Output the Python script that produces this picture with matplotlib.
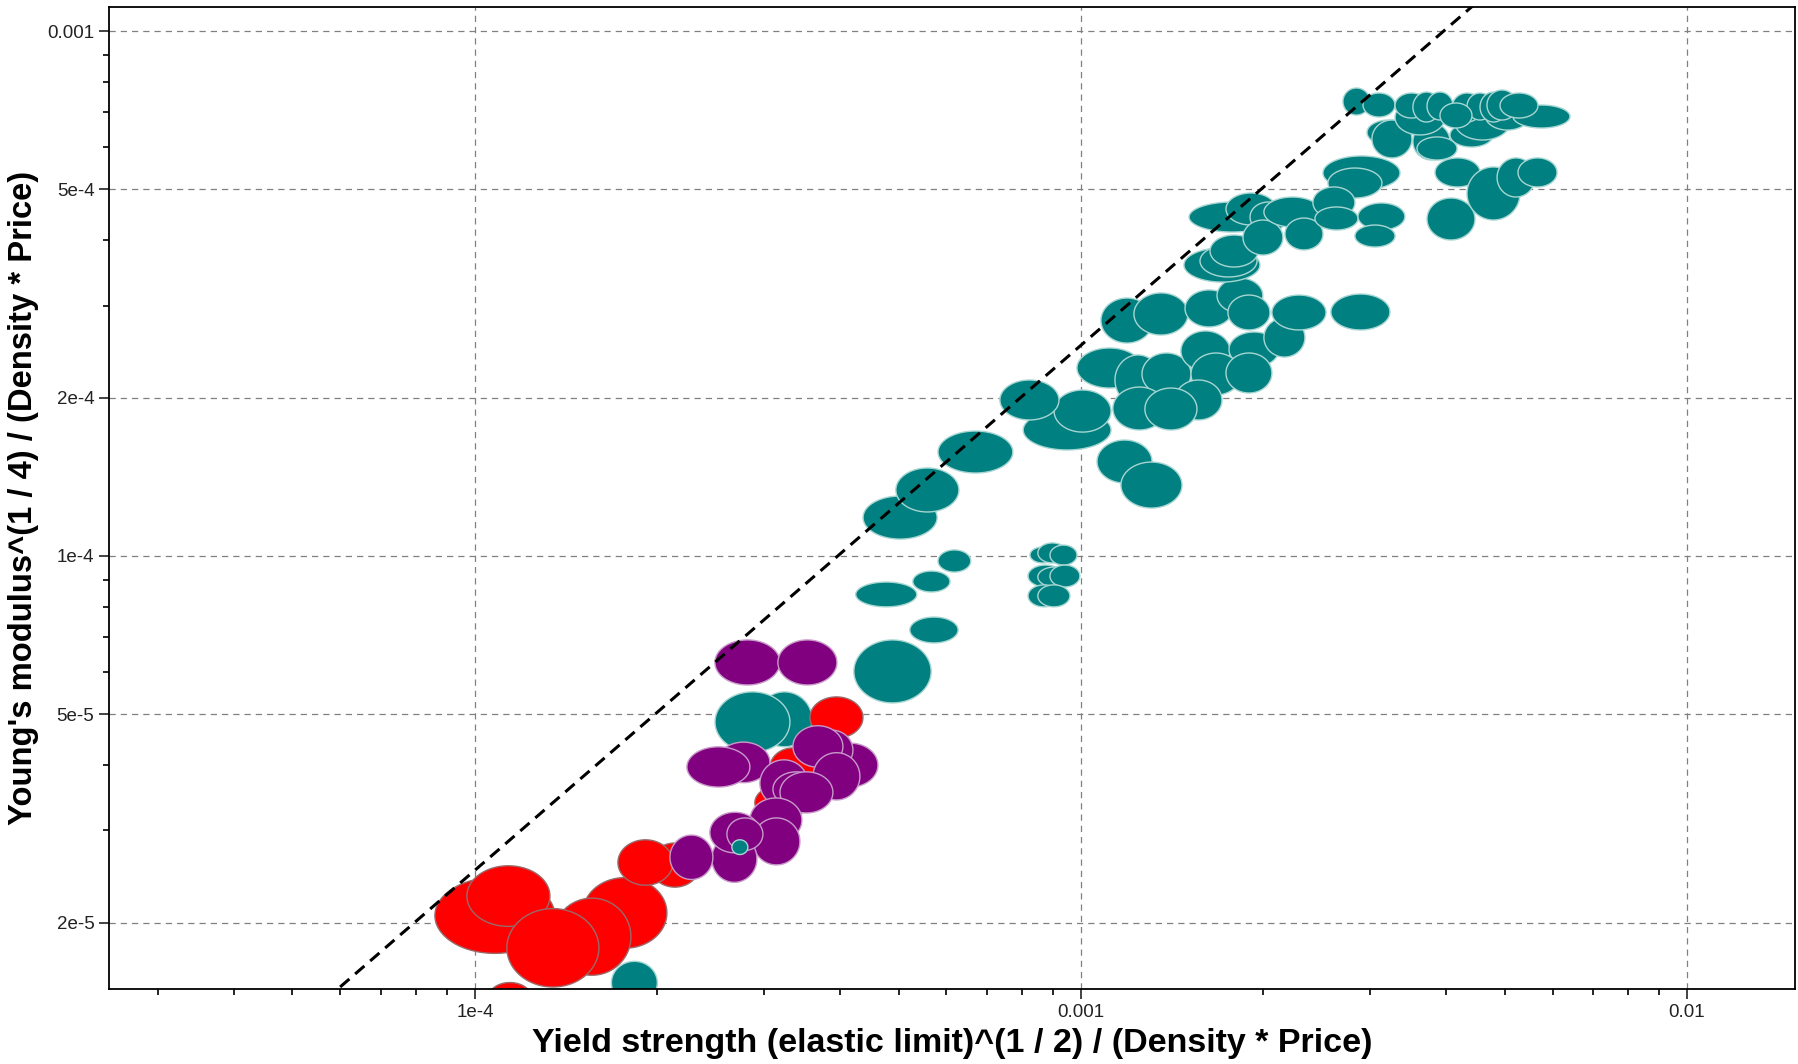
import numpy as np
import matplotlib
matplotlib.use("Agg")
import matplotlib.pyplot as plt
from matplotlib.ticker import FixedLocator, FixedFormatter, NullFormatter

plt.rcParams['font.family'] = ['Liberation Sans', 'DejaVu Sans']

# each bubble: (x_lo, x_hi, y_lo, y_hi)
teal_bubbles = [
    (1.68e-4, 2.00e-4, 1.40e-5, 1.69e-5),
    (2.92e-4, 3.60e-4, 4.33e-5, 5.51e-5),
    (2.49e-4, 3.31e-4, 4.23e-5, 5.51e-5),
    (4.22e-4, 5.66e-4, 5.25e-5, 6.92e-5),
    (5.22e-4, 6.27e-4, 6.83e-5, 7.65e-5),
    (4.25e-4, 5.36e-4, 8.00e-5, 8.92e-5),
    (5.28e-4, 6.08e-4, 8.54e-5, 9.36e-5),
    (5.81e-4, 6.58e-4, 9.32e-5, 1.027e-4),
    (4.37e-4, 5.79e-4, 1.077e-4, 1.301e-4),
    (4.95e-4, 6.29e-4, 1.213e-4, 1.471e-4),
    (5.81e-4, 7.72e-4, 1.439e-4, 1.730e-4),
    (8.24e-4, 9.06e-4, 9.70e-5, 1.040e-4),
    (8.49e-4, 9.48e-4, 9.70e-5, 1.059e-4),
    (8.89e-4, 9.85e-4, 9.61e-5, 1.049e-4),
    (8.18e-4, 9.34e-4, 8.73e-5, 9.61e-5),
    (8.49e-4, 9.66e-4, 8.73e-5, 9.53e-5),
    (8.89e-4, 9.96e-4, 8.73e-5, 9.61e-5),
    (8.18e-4, 9.23e-4, 8.00e-5, 8.81e-5),
    (8.49e-4, 9.59e-4, 8.00e-5, 8.81e-5),
    (8.03e-4, 1.121e-3, 1.592e-4, 1.897e-4),
    (9.03e-4, 1.121e-3, 1.722e-4, 2.071e-4),
    (7.35e-4, 9.20e-4, 1.816e-4, 2.164e-4),
    (9.85e-4, 1.261e-3, 2.089e-4, 2.490e-4),
    (1.138e-3, 1.355e-3, 1.939e-4, 2.415e-4),
    (1.261e-3, 1.519e-3, 2.026e-4, 2.436e-4),
    (1.462e-3, 1.762e-3, 2.251e-4, 2.683e-4),
    (1.755e-3, 2.122e-3, 2.291e-4, 2.671e-4),
    (2.004e-3, 2.342e-3, 2.393e-4, 2.840e-4),
    (1.519e-3, 1.837e-3, 2.026e-4, 2.436e-4),
    (1.735e-3, 2.066e-3, 2.044e-4, 2.436e-4),
    (1.429e-3, 1.709e-3, 1.816e-4, 2.164e-4),
    (1.129e-3, 1.381e-3, 1.738e-4, 2.098e-4),
    (1.275e-3, 1.554e-3, 1.738e-4, 2.089e-4),
    (1.063e-3, 1.310e-3, 1.377e-4, 1.663e-4),
    (1.164e-3, 1.468e-3, 1.234e-4, 1.510e-4),
    (1.079e-3, 1.315e-3, 2.545e-4, 3.100e-4),
    (1.223e-3, 1.502e-3, 2.636e-4, 3.170e-4),
    (1.485e-3, 1.782e-3, 2.731e-4, 3.212e-4),
    (1.677e-3, 1.996e-3, 2.903e-4, 3.384e-4),
    (1.748e-3, 2.051e-3, 2.695e-4, 3.141e-4),
    (2.066e-3, 2.537e-3, 2.695e-4, 3.141e-4),
    (2.585e-3, 3.235e-3, 2.695e-4, 3.155e-4),
    (1.479e-3, 1.974e-3, 3.325e-4, 3.862e-4),
    (1.572e-3, 1.952e-3, 3.400e-4, 3.912e-4),
    (1.633e-3, 1.960e-3, 3.552e-4, 4.087e-4),
    (1.508e-3, 2.098e-3, 4.141e-4, 4.724e-4),
    (1.735e-3, 2.098e-3, 4.270e-4, 4.914e-4),
    (1.901e-3, 2.188e-3, 4.141e-4, 4.724e-4),
    (1.851e-3, 2.154e-3, 3.744e-4, 4.365e-4),
    (2.004e-3, 2.489e-3, 4.233e-4, 4.828e-4),
    (2.171e-3, 2.508e-3, 3.828e-4, 4.403e-4),
    (2.508e-3, 3.361e-3, 4.980e-4, 5.781e-4),
    (2.556e-3, 3.138e-3, 4.807e-4, 5.483e-4),
    (2.414e-3, 2.832e-3, 4.403e-4, 5.046e-4),
    (2.433e-3, 2.865e-3, 4.178e-4, 4.622e-4),
    (2.865e-3, 3.424e-3, 4.178e-4, 4.703e-4),
    (2.832e-3, 3.298e-3, 3.878e-4, 4.270e-4),
    (3.724e-3, 4.469e-3, 3.999e-4, 4.807e-4),
    (3.839e-3, 4.555e-3, 5.046e-4, 5.731e-4),
    (4.335e-3, 5.302e-3, 4.365e-4, 5.508e-4),
    (4.860e-3, 5.613e-3, 4.828e-4, 5.731e-4),
    (5.262e-3, 6.103e-3, 5.046e-4, 5.731e-4),
    (2.965e-3, 3.490e-3, 6.066e-4, 6.768e-4),
    (3.021e-3, 3.517e-3, 5.731e-4, 6.768e-4),
    (3.530e-3, 4.064e-3, 5.679e-4, 6.680e-4),
    (3.585e-3, 4.174e-3, 5.679e-4, 6.284e-4),
    (4.064e-3, 4.786e-3, 6.012e-4, 6.680e-4),
    (3.298e-3, 3.988e-3, 6.339e-4, 7.389e-4),
    (4.142e-3, 5.104e-3, 6.200e-4, 7.228e-4),
    (4.642e-3, 5.507e-3, 6.477e-4, 7.389e-4),
    (5.163e-3, 6.411e-3, 6.535e-4, 7.228e-4),
    (2.706e-3, 2.999e-3, 6.918e-4, 7.788e-4),
    (2.920e-3, 3.298e-3, 6.858e-4, 7.619e-4),
    (3.298e-3, 3.738e-3, 6.828e-4, 7.619e-4),
    (3.530e-3, 3.912e-3, 6.709e-4, 7.652e-4),
    (3.724e-3, 4.111e-3, 6.768e-4, 7.652e-4),
    (4.095e-3, 4.589e-3, 6.709e-4, 7.619e-4),
    (4.335e-3, 4.786e-3, 6.768e-4, 7.619e-4),
    (4.555e-3, 5.047e-3, 6.709e-4, 7.652e-4),
    (4.677e-3, 5.243e-3, 6.768e-4, 7.720e-4),
    (4.914e-3, 5.677e-3, 6.828e-4, 7.619e-4),
    (3.912e-3, 4.418e-3, 6.535e-4, 7.293e-4),
]

red_bubbles = [
    (8.59e-5, 1.355e-4, 1.75e-5, 2.44e-5),
    (9.70e-5, 1.33e-4, 1.97e-5, 2.57e-5),
    (1.051e-4, 1.242e-4, 1.34e-5, 1.54e-5),
    (1.507e-4, 2.074e-4, 1.79e-5, 2.44e-5),
    (1.345e-4, 1.809e-4, 1.59e-5, 2.23e-5),
    (1.129e-4, 1.602e-4, 1.51e-5, 2.13e-5),
    (1.944e-4, 2.351e-4, 2.34e-5, 2.84e-5),
    (1.722e-4, 2.122e-4, 2.36e-5, 2.88e-5),
    (2.897e-4, 3.531e-4, 3.14e-5, 3.66e-5),
    (3.068e-4, 3.667e-4, 3.63e-5, 4.31e-5),
    (3.572e-4, 4.368e-4, 4.50e-5, 5.39e-5),
]

purple_bubbles = [
    (2.489e-4, 3.187e-4, 5.68e-5, 6.92e-5),
    (3.162e-4, 3.957e-4, 5.68e-5, 6.92e-5),
    (2.508e-4, 3.068e-4, 3.70e-5, 4.42e-5),
    (2.238e-4, 2.843e-4, 3.63e-5, 4.33e-5),
    (3.751e-4, 4.624e-4, 3.63e-5, 4.40e-5),
    (3.572e-4, 4.205e-4, 3.91e-5, 4.66e-5),
    (3.348e-4, 4.048e-4, 3.96e-5, 4.75e-5),
    (3.613e-4, 4.318e-4, 3.43e-5, 4.22e-5),
    (2.953e-4, 3.544e-4, 3.33e-5, 4.09e-5),
    (3.103e-4, 3.708e-4, 3.33e-5, 3.88e-5),
    (3.187e-4, 3.897e-4, 3.24e-5, 3.88e-5),
    (2.843e-4, 3.464e-4, 2.85e-5, 3.46e-5),
    (2.876e-4, 3.438e-4, 2.58e-5, 3.17e-5),
    (2.460e-4, 2.920e-4, 2.39e-5, 2.94e-5),
    (2.442e-4, 2.953e-4, 2.72e-5, 3.25e-5),
    (2.605e-4, 2.987e-4, 2.75e-5, 3.17e-5),
    (2.098e-4, 2.470e-4, 2.42e-5, 2.94e-5),
]

# small teal bubble sitting on top of the purple group
teal_top = [
    (2.655e-4, 2.821e-4, 2.70e-5, 2.88e-5),
]

guide_ratio = 0.252  # dashed guide line: y = guide_ratio * x

x_ticks = [1e-4, 1e-3, 1e-2]
x_tick_labels = ["1e-4", "0.001", "0.01"]
y_ticks = [2e-5, 5e-5, 1e-4, 2e-4, 5e-4, 1e-3]
y_tick_labels = ["2e-5", "5e-5", "1e-4", "2e-4", "5e-4", "0.001"]
x_limits = (2.49e-5, 1.507e-2)
y_limits = (1.497e-5, 1.111e-3)


def draw_bubbles(ax, bubbles, face, edge):
    t = np.linspace(0, 2 * np.pi, 90)
    for xlo, xhi, ylo, yhi in bubbles:
        cx = (np.log10(xlo) + np.log10(xhi)) / 2
        rx = (np.log10(xhi) - np.log10(xlo)) / 2
        cy = (np.log10(ylo) + np.log10(yhi)) / 2
        ry = (np.log10(yhi) - np.log10(ylo)) / 2
        xs = 10 ** (cx + rx * np.cos(t))
        ys = 10 ** (cy + ry * np.sin(t))
        ax.fill(xs, ys, facecolor=face, edgecolor=edge, linewidth=1.0, zorder=2)


fig = plt.figure(figsize=(17.98, 10.64), dpi=100)
ax = fig.add_axes([0.0606, 0.0705, 0.9377, 0.9229])
ax.set_xscale('log')
ax.set_yscale('log')

draw_bubbles(ax, teal_bubbles, '#008080', '#a6d6d2')
draw_bubbles(ax, red_bubbles, '#ff0000', '#9a6a6a')
draw_bubbles(ax, purple_bubbles, '#800080', '#c89ac8')
draw_bubbles(ax, teal_top, '#008080', '#a6d6d2')

gx = np.array(x_limits)
ax.plot(gx, guide_ratio * gx, color='black', linestyle=(0, (4, 2.5)), linewidth=2.2, zorder=3)

ax.set_xlim(*x_limits)
ax.set_ylim(*y_limits)

ax.xaxis.set_major_locator(FixedLocator(x_ticks))
ax.xaxis.set_major_formatter(FixedFormatter(x_tick_labels))
ax.xaxis.set_minor_locator(FixedLocator([m * 10.0 ** e for e in range(-5, -1) for m in range(2, 10)]))
ax.xaxis.set_minor_formatter(NullFormatter())

minor_y = [m * 10.0 ** e for e in range(-5, -2) for m in range(1, 10)]
minor_y = [v for v in minor_y if not any(abs(v - yt) / yt < 1e-6 for yt in y_ticks)]
ax.yaxis.set_major_locator(FixedLocator(y_ticks))
ax.yaxis.set_major_formatter(FixedFormatter(y_tick_labels))
ax.yaxis.set_minor_locator(FixedLocator(minor_y))
ax.yaxis.set_minor_formatter(NullFormatter())

ax.tick_params(which='major', length=7, width=1.2, labelsize=13.5, colors='#222222')
ax.tick_params(which='minor', length=4, width=1.2)
ax.grid(True, which='major', color='#808080', linestyle=(0, (5, 4)), linewidth=0.9)
ax.set_axisbelow(True)
for sp in ax.spines.values():
    sp.set_linewidth(1.3)

ax.set_xlabel("Yield strength (elastic limit)^(1 / 2) / (Density * Price)",
              fontsize=24.5, fontweight='bold', labelpad=5)
ax.set_ylabel("Young's modulus^(1 / 4) / (Density * Price)",
              fontsize=23.6, fontweight='bold', labelpad=6)

fig.savefig("out.png", dpi=100)
